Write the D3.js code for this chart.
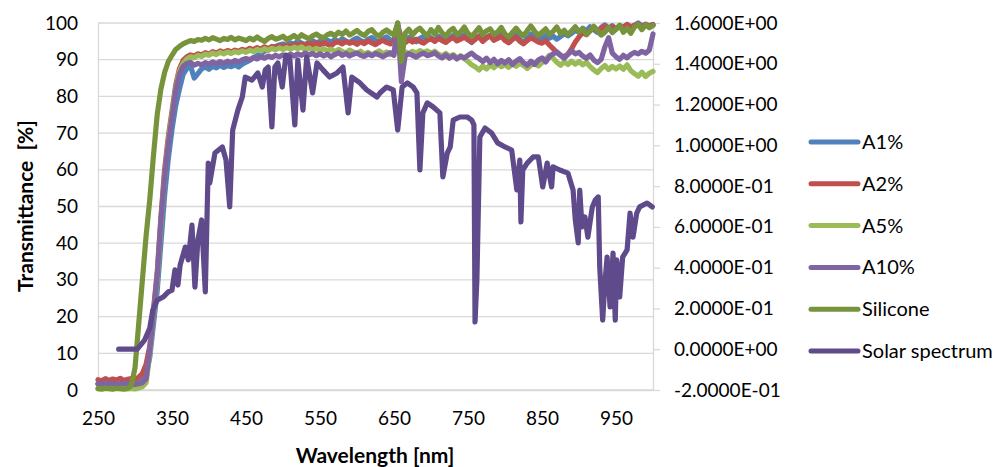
<!DOCTYPE html>
<html>
<head>
<meta charset="utf-8">
<script src="https://cdn.jsdelivr.net/npm/d3@7"></script>
<style>
    body { margin: 0; background: #fff; }
    svg text { font-family: Lato, "Open Sans", sans-serif; fill: #000; }
</style>
</head>
<body>
<svg id="chart" width="1006" height="467"></svg>
<script>
// wavelength grid of the transmittance measurements [nm]
const wavelengths = [
    250,255,260,265,270,275,280,285,290,295,
    300,305,310,315,320,325,330,335,340,345,
    350,355,360,365,370,375,380,385,390,395,
    400,405,410,415,420,425,430,435,440,445,
    450,455,460,465,470,475,480,485,490,495,
    500,505,510,515,520,525,530,535,540,545,
    550,555,560,565,570,575,580,585,590,595,
    600,605,610,615,620,625,630,635,640,645,
    650,655,660,665,670,675,680,685,690,695,
    700,705,710,715,720,725,730,735,740,745,
    750,755,760,765,770,775,780,785,790,795,
    800,805,810,815,820,825,830,835,840,845,
    850,855,860,865,870,875,880,885,890,895,
    900,905,910,915,920,925,930,935,940,945,
    950,955,960,965,970,975,980,985,990,995,
    1000
];

const a1 = [
    1.6,1.4,1.8,1.5,1.7,1.3,1.6,1.8,1.5,1.7,
    1.6,1.9,2.5,4,9,18,27,40,53,63,
    71,77.5,82,86,87.6,88.3,85.0,86.2,87.5,88.0,
    87.4,88.2,87.8,88.5,87.9,88.4,88.1,88.6,88.0,88.8,
    89.3,89.8,90.5,91.2,91.6,92.3,92.8,93.2,93.6,94.0,
    94.3,93.8,94.6,94.2,95.0,94.5,94.1,94.8,95.2,94.6,
    95.0,94.4,95.3,94.8,95.5,94.9,95.7,95.1,94.6,95.4,
    95.9,95.2,94.7,95.6,96.0,95.3,94.8,95.7,96.2,95.4,
    95.0,99.5,95.8,95.3,96.1,95.6,94.9,95.8,96.3,95.5,
    96.0,95.2,96.4,95.7,94.8,95.9,96.6,95.3,96.1,96.8,
    95.6,94.7,95.8,96.5,95.1,96.0,96.7,95.4,96.2,96.9,
    95.7,94.9,96.1,96.8,95.5,94.6,95.7,97.0,96.2,95.3,
    95.8,96.6,95.9,96.4,95.6,96.3,97.1,96.5,97.2,98.0,
    97.5,98.6,97.8,99.0,98.2,97.4,98.8,99.5,98.6,99.3,
    98.4,99.2,98.7,99.6,98.9,99.4,100,99.1,99.7,99.2,
    99.5
];

const a2 = [
    2.8,2.5,3.1,2.6,3.0,2.7,3.2,2.6,2.9,3.1,
    2.9,3.5,4.5,7,12,22,32,47,60,69,
    76,83,87.5,89.8,90.8,91.3,91.0,91.6,91.3,91.9,
    91.5,92.2,91.8,92.4,92.0,92.5,92.1,92.6,92.3,92.8,
    92.5,93.1,92.7,93.3,92.9,93.5,93.0,93.6,93.2,93.8,
    93.4,94.0,93.5,94.2,93.7,94.3,93.8,94.5,94.0,94.6,
    94.1,94.7,94.2,93.8,94.6,94.9,94.3,95.0,94.5,94.8,
    94.2,94.9,94.4,95.1,94.6,94.1,94.8,95.3,94.7,94.3,
    94.9,99.2,95.1,94.6,95.4,94.8,95.6,95.0,94.5,95.3,
    95.7,95.0,95.8,95.2,94.7,95.5,96.0,95.1,95.6,96.2,
    95.4,94.8,95.6,96.3,95.0,95.9,96.5,95.3,95.8,96.4,
    95.2,94.6,95.5,96.1,95.0,94.3,95.2,96.0,95.4,94.8,
    94.5,95.2,94.0,93.0,92.0,91.2,90.8,91.5,93.0,94.8,
    96.2,97.4,96.8,98.0,98.6,97.9,98.5,99.2,98.4,99.0,
    98.5,99.2,98.8,99.6,98.9,99.3,99.8,99.0,99.5,99.2,
    99.6
];

const a5 = [
    0.3,0.2,0.4,0.3,0.2,0.4,0.3,0.2,0.3,0.4,
    0.3,0.5,0.9,2,10,20,30,45,58,68,
    75,82,86.8,89,90.2,90.8,90.5,91.2,90.9,91.5,
    91.2,91.8,91.4,92.0,91.6,92.1,91.7,92.2,91.9,92.4,
    92.0,92.6,92.2,92.8,92.4,93.0,92.5,93.1,92.7,93.2,
    92.8,93.3,92.9,93.4,93.0,93.5,92.7,93.2,92.6,93.1,
    92.5,93.0,92.4,92.9,92.2,92.8,92.3,91.8,92.6,92.1,
    91.7,92.3,91.5,92.0,91.3,91.9,92.4,91.6,92.1,91.4,
    92.0,98.5,91.5,92.2,91.6,92.3,91.8,92.5,91.9,92.4,
    91.8,92.3,91.5,91.0,91.7,90.8,91.4,90.5,91.1,90.3,
    89.5,88.6,88.0,87.2,88.3,87.5,88.6,87.8,88.9,88.1,
    88.7,87.9,88.8,88.2,89.0,88.4,87.6,88.5,89.1,88.3,
    89.2,90.1,91.2,90.4,89.3,88.5,89.4,88.7,89.6,88.8,
    89.5,88.6,89.3,88.1,87.2,86.5,87.6,88.4,87.3,88.2,
    87.5,88.3,87.4,88.6,87.0,86.2,85.5,86.6,85.4,86.3,
    86.8
];

const a10 = [
    1.8,1.5,2.0,1.6,1.9,1.4,1.7,2.0,1.6,1.8,
    1.5,1.7,2.0,3,11,21,31,46,58,67,
    74,81.5,86,88.2,89,89.3,88.5,89.0,88.6,89.2,
    88.8,89.4,88.9,89.5,89.0,89.6,89.2,89.8,89.4,90.0,
    90.3,90.0,90.6,90.2,90.8,90.4,91.0,90.6,91.2,90.8,
    91.3,90.9,91.5,91.0,91.6,91.2,91.8,91.3,91.7,91.1,
    91.6,91.0,91.5,90.8,91.4,91.9,91.2,91.7,91.0,91.5,
    91.8,91.2,90.9,91.6,91.1,91.7,91.3,90.8,91.4,91.9,
    91.2,100,84,91.0,91.7,91.2,90.7,91.4,91.8,91.1,
    91.4,91.9,91.0,90.5,91.3,90.4,91.1,90.2,90.9,90.5,
    91.2,91.8,90.9,90.3,89.5,90.4,89.2,90.1,88.9,89.8,
    89.1,90.0,88.7,89.6,90.3,89.2,88.5,89.6,88.7,89.9,
    90.5,89.4,90.8,91.6,92.1,91.2,90.4,91.5,92.4,91.6,
    92.0,91.0,90.4,91.3,89.9,89.2,90.1,93.5,96.0,91.8,
    90.8,90.1,91.2,90.5,91.4,92.0,91.6,92.3,91.8,92.6,
    97
];

const silicone = [
    0.4,0.3,0.5,0.4,0.3,0.5,0.4,0.3,0.5,1.2,
    6,18,30,42,52,64,75,82,86.5,89.5,
    91.2,92.8,93.6,94.3,94.8,95.2,95.0,95.5,95.3,95.8,
    95.4,96.0,95.6,95.2,95.8,95.5,96.1,95.4,95.9,95.6,
    95.2,95.9,95.4,96.2,95.5,95.0,95.8,96.3,95.6,95.9,
    96.4,95.5,96.0,96.6,95.8,96.8,96.2,95.7,96.5,97.0,
    96.3,96.0,96.8,97.2,96.5,97.5,96.9,97.8,96.7,97.3,
    98.0,97.1,96.6,97.7,98.2,97.0,96.4,97.5,98.1,97.3,
    96.8,100,89.5,97.2,98.3,96.8,97.9,98.6,97.4,96.5,
    98.2,97.0,98.8,97.3,96.4,97.8,98.5,96.9,97.6,98.9,
    97.2,96.3,97.5,98.7,96.8,97.9,98.4,96.9,97.6,98.8,
    97.0,96.2,97.4,98.6,97.3,96.5,97.9,99.2,97.8,96.6,
    97.5,98.4,96.9,97.7,98.9,97.1,98.0,96.8,97.9,99.0,
    97.6,98.4,96.9,97.8,99.1,98.0,96.7,97.5,98.8,97.4,
    98.3,99.4,97.5,98.6,97.2,98.9,99.6,98.2,99.5,98.7,
    99.3
];

// solar spectrum, secondary axis
const solarWl = [
    278,303,313,320,324,330,338,345,350,354,358,361,368,372,377,381,385,390,395,399,
    401,408,418,423,428,432,439,445,449,458,466,472,476,480,485,489,493,499,504,509,
    516,520,527,532,540,546,554,563,573,581,588,593,604,613,627,631,640,649,655,661,
    668,676,681,685,689,695,703,712,716,722,726,730,739,749,755,758,759.5,762,766,773,
    782,790,800,809,816,820,821.5,824,830,838,845,851,857,863,865,874,885,892,895,899,
    901,904,908,912,918,922,926,928,932,935,938,942,946,949,951,955,959,965,969,973,
    978,982,992,999
];
const solarVal = [
    0.00,0.00,0.045,0.104,0.192,0.241,0.256,0.281,0.29,0.389,0.315,0.413,0.501,0.438,0.609,0.305,0.536,0.634,0.281,0.913,
    0.815,0.962,0.992,0.928,0.698,1.075,1.173,1.237,1.335,1.32,1.355,1.286,1.370,1.384,1.09,1.384,1.404,1.286,1.443,1.433,
    1.10,1.419,1.173,1.433,1.257,1.404,1.370,1.335,1.355,1.384,1.159,1.335,1.306,1.272,1.237,1.257,1.286,1.272,1.075,1.286,
    1.306,1.286,1.257,0.879,1.159,1.208,1.188,1.159,0.845,0.962,0.992,1.124,1.139,1.139,1.124,1.10,0.134,0.34,1.041,1.085,
    1.06,1.012,0.992,0.977,0.781,0.928,0.624,0.879,0.913,0.943,0.943,0.796,0.913,0.796,0.894,0.879,0.864,0.781,0.634,0.521,
    0.781,0.60,0.649,0.55,0.698,0.732,0.747,0.403,0.143,0.325,0.452,0.207,0.472,0.143,0.438,0.256,0.452,0.487,0.668,0.55,
    0.668,0.698,0.717,0.698
];

const xTicks = [250, 350, 450, 550, 650, 750, 850, 950];
const yTicks = [0, 10, 20, 30, 40, 50, 60, 70, 80, 90, 100];
const y2Ticks = [-0.2, 0, 0.2, 0.4, 0.6, 0.8, 1.0, 1.2, 1.4, 1.6];

const seriesNames = ["A1%", "A2%", "A5%", "A10%", "Silicone", "Solar spectrum"];
const seriesColors = ["#4F81BD", "#C0504D", "#9BBB59", "#8064A2", "#77933C", "#5F4B8B"];

const svg = d3.select("#chart");
const plot = {left: 98, right: 653, top: 23, bottom: 390};

const x = d3.scaleLinear().domain([250, 1000]).range([plot.left, plot.right]);
const y = d3.scaleLinear().domain([0, 100]).range([plot.bottom, plot.top]);
const y2 = d3.scaleLinear().domain([-0.2, 1.6]).range([plot.bottom, plot.top]);

const fontSize = "19px";
const lineW = 5.2;

// gridlines
svg.append("g")
    .selectAll("line")
    .data(yTicks)
    .join("line")
    .attr("x1", plot.left)
    .attr("x2", plot.right)
    .attr("y1", d => y(d))
    .attr("y2", d => y(d))
    .attr("stroke", "#d9d9d9")
    .attr("stroke-width", 1.3);

const expFmt = v => {
    let s = v.toExponential(4).toUpperCase();
    return s.replace(/E([+-])(\d)$/, "E$10$2");
};

let yAxis = g => g
    .attr("transform", `translate(${plot.left},0)`)
    .call(d3.axisLeft(y).tickValues(yTicks).tickSize(0).tickPadding(20).tickSizeOuter(0))
    .call(g => g.select(".domain").attr("stroke", "#d9d9d9").attr("stroke-width", 1.3));

let xAxis = g => g
    .attr("transform", `translate(0,${plot.bottom})`)
    .call(d3.axisBottom(x).tickValues(xTicks).tickSize(0).tickPadding(22).tickSizeOuter(0))
    .call(g => g.select(".domain").attr("stroke", "#d9d9d9").attr("stroke-width", 1.3));

let y2Axis = g => g
    .attr("transform", `translate(${plot.right},0)`)
    .call(d3.axisRight(y2).tickValues(y2Ticks).tickSize(7).tickPadding(14).tickSizeOuter(0).tickFormat(expFmt))
    .call(g => g.select(".domain").attr("stroke", "#d9d9d9").attr("stroke-width", 1.3))
    .call(g => g.selectAll(".tick line").attr("stroke", "#d9d9d9").attr("stroke-width", 1.3));

svg.append("g").call(yAxis);
svg.append("g").call(xAxis);
svg.append("g").call(y2Axis);

svg.selectAll(".tick text")
    .style("font-family", "Lato, 'Open Sans', sans-serif")
    .style("font-size", fontSize)
    .attr("fill", "#000");

// transmittance lines
const line = d3.line()
    .x(d => x(d[0]))
    .y(d => y(d[1]));

const series = [a1, a2, a5, a10, silicone];
series.forEach((vals, i) => {
    svg.append("path")
        .datum(wavelengths.map((w, j) => [w, vals[j]]))
        .attr("fill", "none")
        .attr("stroke", seriesColors[i])
        .attr("stroke-width", lineW)
        .attr("stroke-linejoin", "round")
        .attr("stroke-linecap", "round")
        .attr("d", line);
});

// solar spectrum on the secondary axis
const line2 = d3.line()
    .x(d => x(d[0]))
    .y(d => y2(d[1]));

svg.append("path")
    .datum(solarWl.map((w, j) => [w, solarVal[j]]))
    .attr("fill", "none")
    .attr("stroke", seriesColors[5])
    .attr("stroke-width", lineW)
    .attr("stroke-linejoin", "round")
    .attr("stroke-linecap", "round")
    .attr("d", line2);

// axis titles
svg.append("text")
    .attr("x", 375)
    .attr("y", 456)
    .attr("text-anchor", "middle")
    .attr("dy", "0.35em")
    .style("font-size", "21px")
    .style("font-weight", "bold")
    .text("Wavelength [nm]");

svg.append("text")
    .attr("transform", "translate(26,206) rotate(-90)")
    .attr("text-anchor", "middle")
    .attr("dy", "0.35em")
    .style("font-size", "21px")
    .style("font-weight", "bold")
    .style("white-space", "pre")
    .text("Transmittance  [%]");

// legend
const legend = svg.append("g")
    .selectAll("g")
    .data(seriesNames)
    .join("g")
    .attr("transform", (d, i) => `translate(811,${142 + i * 41.8})`);

legend.append("line")
    .attr("x1", 0)
    .attr("x2", 47)
    .attr("stroke", (d, i) => seriesColors[i])
    .attr("stroke-width", 5)
    .attr("stroke-linecap", "round");

legend.append("text")
    .attr("x", 51)
    .attr("dy", "0.35em")
    .style("font-size", "20px")
    .text(d => d);
</script>
</body>
</html>
